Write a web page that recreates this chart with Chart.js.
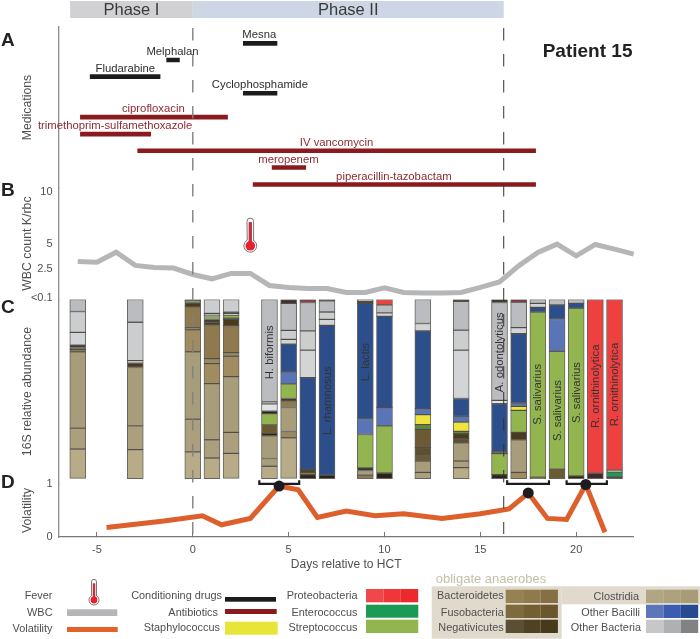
<!DOCTYPE html>
<html>
<head>
<meta charset="utf-8">
<title>Patient 15</title>
<script src="https://cdn.jsdelivr.net/npm/chart.js@4"></script>
<style>
  html, body { margin: 0; padding: 0; background: #fff; }
  canvas { display: block; }
</style>
</head>
<body>
<canvas id="patientChart" width="700" height="639"></canvas>
<script>
// medications: row on the panel, first and last day
const conditioningDrugs = ['Mesna', 'Melphalan', 'Fludarabine', 'Cyclophosphamide'];
const conditioningRows = [1, 2, 3, 4];
const conditioningStart = [2.62, -1.38, -5.37, 2.62];
const conditioningEnd = [4.41, -0.68, -1.69, 4.41];
const conditioningLabelDays = [3.47, -1.06, -3.52, 3.5];

const antibiotics = ['ciprofloxacin', 'trimethoprim-sulfamethoxazole', 'IV vancomycin', 'meropenem', 'piperacillin-tazobactam'];
const antibioticRows = [5.43, 6.45, 7.45, 8.45, 9.47];
const antibioticStart = [-5.88, -5.88, -2.89, 4.12, 3.13];
const antibioticEnd = [1.83, -2.18, 17.9, 5.91, 17.9];
const antibioticLabelDays = [-2.06, -4.05, 7.5, 4.99, 10.49];

// white blood cells
const wbcDays = [-6, -5, -4, -3, -2, -1, 0, 1, 2, 3, 4, 5, 6, 7, 8, 9, 10, 11, 12, 13, 14, 15, 16, 17, 18, 19, 20, 21, 22, 23];
const wbcValues = [3.28, 3.21, 4.18, 2.89, 2.69, 2.63, 2.01, 1.59, 2.11, 2.11, 0.94, 0.75, 0.65, 0.65, 0.26, 0.26, 0.71, 0.26, 0.22, 0.22, 0.26, 0.75, 1.29, 2.85, 4.15, 4.96, 3.82, 4.93, 4.47, 3.99];
const wbcTicks = [10, 5, 2.5, -0.25];
const wbcTickLabels = ['10', '5', '2.5', '<0.1'];
const feverDays = [3];
const feverLevels = [4.8];

// 16S samples, each column listed from the top down
const sampleDays = [-6, -3, 0, 1, 2, 4, 5, 6, 7, 9, 10, 12, 14, 16, 17, 18, 19, 20, 21, 22];
const sampleTaxa = [
  ['oth1', 'oth2', 'oth3', 'neg2', 'neg', 'bac', 'clo1', 'clo2', 'clo3'],
  ['oth1', 'oth2', 'oth4', 'neg', 'clo1', 'clo2', 'clo3'],
  ['neg2', 'strep', 'neg', 'bac', 'fus', 'bac2', 'clo1', 'clo2', 'clo3'],
  ['oth2', 'oth5', 'oth4', 'strep', 'neg2', 'neg', 'bac', 'bac3', 'bac2', 'clo1', 'clo2', 'clo3'],
  ['oth2', 'neg2', 'oth4', 'strep', 'neg2', 'neg', 'bac', 'bac3', 'bac2', 'clo1', 'clo2', 'clo3'],
  ['oth1', 'oth5', 'oth4', 'neg2', 'strep', 'fus', 'neg2', 'clo1', 'clo1', 'clo3'],
  ['neg3', 'oth1', 'oth2', 'oth3', 'blue', 'bacilli', 'strep', 'neg2', 'bac', 'clo1', 'bac3', 'clo3'],
  ['entero', 'oth1', 'oth2', 'oth3', 'blue', 'neg', 'bac', 'neg2'],
  ['neg2', 'oth1', 'oth2', 'oth3', 'blue', 'neg2'],
  ['oth1', 'neg2', 'blue', 'bacilli', 'strep', 'neg2', 'clo1', 'bac'],
  ['proteo', 'oth1', 'oth3', 'blue', 'bacilli', 'strep', 'neg2'],
  ['oth1', 'oth3', 'blue', 'bacilli', 'staph', 'strepDark', 'fus', 'olive', 'fus', 'clo1', 'clo2'],
  ['neg2', 'oth1', 'oth2', 'oth3', 'blue', 'bacilli', 'staph', 'strepDark', 'neg', 'olive', 'clo1', 'clo2', 'clo3'],
  ['neg2', 'oth1', 'oth4', 'blue', 'neg2', 'strep', 'neg2'],
  ['entero', 'oth1', 'oth3', 'blue', 'bacilli', 'staph', 'strep', 'neg', 'clo1', 'bac2'],
  ['oth1', 'oth3', 'blue', 'strep', 'neg'],
  ['oth1', 'blue', 'bacilli', 'strep', 'fus'],
  ['oth1', 'blue', 'strep', 'neg2'],
  ['proteo', 'neg3'],
  ['proteo', 'clo3', 'enteroGreen', 'neg2']
];
const sampleShares = [
  [6.7, 11.7, 7.1, 1.3, 1.1, 1.3, 42.6, 11.7, 16.4],
  [12.7, 21.4, 1.5, 2.4, 32.6, 13.2, 16.2],
  [0.9, 0.8, 2.4, 11.7, 1.1, 12.3, 37.6, 18.3, 14.9],
  [7.8, 1.1, 0.6, 1.7, 1.5, 1.5, 18.8, 2.8, 11.2, 31.3, 10.2, 11.5],
  [7.1, 0.7, 0.9, 1.7, 0.7, 3.5, 15.1, 2, 11.4, 31.1, 11.7, 14],
  [57.2, 1.1, 4.1, 1.3, 6.3, 4.8, 1.3, 12.7, 4.3, 6.9],
  [2.2, 15.1, 5, 2.6, 15.5, 6.7, 8.2, 1.3, 3.7, 13.4, 3.5, 22.7],
  [1.7, 15.8, 10.8, 15.3, 51.4, 1.5, 1.3, 2.2],
  [0.7, 6.3, 4.1, 3.4, 83.6, 1.9],
  [0.9, 1.3, 64.8, 8.4, 18.6, 1.5, 2.6, 1.9],
  [3, 4.5, 1.9, 51, 10.2, 26.3, 3.2],
  [13.4, 4.1, 43.4, 3.4, 5.6, 2.6, 10.2, 4.7, 2.8, 6.3, 3.5],
  [1.1, 16, 11.2, 27, 9.9, 3.2, 5.2, 1.3, 2.8, 2.4, 10.1, 3.7, 6.1],
  [1.7, 54.6, 1.9, 26.8, 1.1, 11.7, 2.2],
  [1.5, 14.2, 3.4, 38.7, 1.9, 2.2, 12.3, 4.1, 18.2, 3.5],
  [2.2, 2.2, 2.6, 92.2, 0.8],
  [3, 8.2, 17.7, 65.9, 5.2],
  [2.2, 2.6, 93.7, 1.5],
  [97, 3],
  [95.3, 1.1, 2.6, 1]
];
const speciesNames = ['H. biformis', 'L. rhamnosus', 'L. lactis', 'A. odontolyticus', 'S. salivarius', 'S. salivarius', 'S. salivarius', 'R. ornithinolytica', 'R. ornithinolytica'];
const speciesDays = [4, 7, 9, 16, 18, 19, 20, 21, 22];
const speciesLevels = [29.5, 56.5, 35, 29.5, 53, 62, 52, 48.5, 47.5];

// volatility between consecutive samples
const volatilityDays = [-4.5, -1.5, 0.5, 1.5, 3, 4.5, 5.5, 6.5, 8, 9.5, 11, 13, 15, 16.5, 17.5, 18.5, 19.5, 20.5, 21.5];
const volatilityValues = [0.18, 0.3, 0.4, 0.23, 0.35, 0.96, 0.89, 0.37, 0.49, 0.4, 0.44, 0.35, 0.44, 0.53, 0.83, 0.35, 0.33, 0.99, 0.09];
const peakDays = [4.5, 17.5, 20.5];
const peakValues = [0.96, 0.83, 0.99];
const bracketStart = [3.47, 16.4, 19.5];
const bracketEnd = [5.55, 18.58, 21.6];

const dayTicks = [-5, 0, 5, 10, 15, 20];
const phaseNames = ['Phase I', 'Phase II'];
const phaseStart = [-6.4, 0];
const phaseEnd = [0, 16.22];
const phaseColours = ['#d1d1d3', '#cdd6e4'];

const taxonColours = {
  oth1: '#bbbcbf', oth2: '#cbcdcf', oth3: '#d3d4d6', oth4: '#e2e3e5', oth5: '#9ea0a2',
  neg: '#4a3a1b', neg2: '#2b2416', neg3: '#3c2a28', olive: '#5c5030', fus: '#6c5a32',
  bac: '#8f7a50', bac2: '#a08c60', bac3: '#9a8860',
  clo1: '#a89d7a', clo2: '#ab9f7e', clo3: '#b7ab88',
  blue: '#2c4f8c', bacilli: '#5a74b8',
  strep: '#93b550', strepDark: '#5f8a3a', staph: '#efe43c',
  enteroGreen: '#1d9a55', entero: '#8a2a30', proteo: '#ef4040'
};

const FONT = '"Liberation Sans", Arial, sans-serif';
const TEXT = '#4f4f4f';
const AXIS = '#8c8c8c';

function hline(label, row, start, end, colour) {
  return {
    type: 'line', label: label, yAxisID: 'yMed', order: 3,
    data: [{ x: start, y: row }, { x: end, y: row }],
    borderColor: colour, borderWidth: 4.6, pointRadius: 0, borderCapStyle: 'butt'
  };
}

const datasets = [];
conditioningDrugs.forEach((d, i) => datasets.push(hline(d, conditioningRows[i], conditioningStart[i], conditioningEnd[i], '#1c1c1c')));
antibiotics.forEach((d, i) => datasets.push(hline(d, antibioticRows[i], antibioticStart[i], antibioticEnd[i], '#8a1a1d')));

datasets.push({
  type: 'line', label: 'WBC', yAxisID: 'yWbc', order: 2,
  data: wbcDays.map((d, i) => ({ x: d, y: wbcValues[i] })),
  borderColor: '#b5b6b8', borderWidth: 5, pointRadius: 0, borderJoinStyle: 'miter', clip: false
});

// one stacked dataset per layer, first layer sits at the top of the column
const layerCount = Math.max(...sampleShares.map(s => s.length));
for (let layer = 0; layer < layerCount; layer++) {
  const members = sampleDays.map((d, i) => i).filter(i => sampleShares[i].length > layer);
  datasets.push({
    type: 'bar', label: 'layer ' + layer, yAxisID: 'yAbund', order: 4,
    data: members.map(i => ({ x: sampleDays[i], y: sampleShares[i][layer] })),
    backgroundColor: members.map(i => taxonColours[sampleTaxa[i][layer]]),
    borderColor: 'rgba(50,48,42,0.75)', borderWidth: 1, borderSkipped: false,
    barThickness: 16
  });
}

datasets.push({
  type: 'line', label: 'Volatility', yAxisID: 'yVol', order: 1,
  data: volatilityDays.map((d, i) => ({ x: d, y: volatilityValues[i] })),
  borderColor: '#dd5f2b', borderWidth: 5, pointRadius: 0, borderJoinStyle: 'miter', clip: false
});
bracketStart.forEach((s, i) => datasets.push({
  type: 'line', label: 'bracket ' + i, yAxisID: 'yVol', order: 0,
  data: [{ x: s, y: 1.07 }, { x: s, y: 1 }, { x: bracketEnd[i], y: 1 }, { x: bracketEnd[i], y: 1.07 }],
  borderColor: '#1c1c20', borderWidth: 2.2, pointRadius: 0, clip: false
}));
datasets.push({
  type: 'scatter', label: 'peaks', yAxisID: 'yVol', order: 0,
  data: peakDays.map((d, i) => ({ x: d, y: peakValues[i] })),
  backgroundColor: '#1c1c20', borderWidth: 0, pointRadius: 5.5, clip: false
});

function thermometer(ctx, cx, top, bulbY, tubeW, bulbR) {
  ctx.save();
  ctx.beginPath();
  ctx.arc(cx, top + tubeW / 2, tubeW / 2, Math.PI, 0);
  ctx.lineTo(cx + tubeW / 2, bulbY - bulbR + 1);
  ctx.arc(cx, bulbY, bulbR, -Math.PI / 2 + 0.5, Math.PI * 1.5 - 0.5);
  ctx.closePath();
  ctx.fillStyle = '#fff';
  ctx.fill();
  ctx.strokeStyle = '#555';
  ctx.lineWidth = 0.8;
  ctx.stroke();
  ctx.fillStyle = '#c5303c';
  ctx.fillRect(cx - tubeW * 0.25, top + 4, tubeW * 0.5, bulbY - top - 4);
  ctx.beginPath();
  ctx.arc(cx, bulbY, bulbR - 1.6, 0, Math.PI * 2);
  ctx.fillStyle = '#e8202e';
  ctx.fill();
  ctx.restore();
}

function label(ctx, text, x, y, opts) {
  const o = opts || {};
  ctx.fillStyle = o.colour || TEXT;
  ctx.font = (o.bold ? 'bold ' : '') + (o.size || 11) + 'px ' + FONT;
  ctx.textAlign = o.align || 'left';
  ctx.textBaseline = 'middle';
  ctx.fillText(text, x, y);
}

// the legend at the bottom and the text that is not tied to an axis
const legendText = [
  ['Fever', 52.5, 596], ['WBC', 52.5, 612.7], ['Volatility', 52.5, 628.7],
  ['Conditioning drugs', 222, 596], ['Antibiotics', 218, 612.7], ['Staphylococcus', 220, 628],
  ['Proteobacteria', 357.5, 596], ['Enterococcus', 357.5, 612.5], ['Streptococcus', 357.5, 628],
  ['Bacteroidetes', 503.7, 596], ['Fusobacteria', 503.7, 612.7], ['Negativicutes', 503.7, 628],
  ['Clostridia', 639, 597], ['Other Bacilli', 640, 612.7], ['Other Bacteria', 641, 628]
];
const legendSolid = [
  [67, 609.3, 50.3, 6.7, '#b5b6b8'], [67, 627, 50.7, 5, '#e2622a'],
  [225, 597, 51, 4.7, '#1c1c1c'], [225, 609, 51.7, 5, '#8a1a1d'], [225, 621.7, 52.7, 13, '#e8e438'],
  [366, 604.7, 52.3, 13, '#1a9a55'], [366, 619.7, 52.3, 13.3, '#93b550']
];
const legendShaded = [
  [366, 589, ['#f0474a', '#ef3638', '#ec2a2c']],
  [505.7, 589.7, ['#958152', '#8f7a4d', '#866f44']],
  [505.7, 604.7, ['#7d6a3e', '#745f32', '#6c572d']],
  [505.7, 619.7, ['#5b4f33', '#4f4223', '#463a1b']],
  [646, 589.7, ['#b0a683', '#ada27d', '#a89b77']],
  [646, 604.7, ['#5c76b8', '#3a5db0', '#27498f']],
  [646, 619.7, ['#c6c7c9', '#afb0b2', '#808284']]
];

const decorations = {
  id: 'decorations',
  beforeDatasetsDraw(chart) {
    const { ctx, scales } = chart;
    const x = scales.x;
    ctx.save();
    // phase bands
    phaseNames.forEach((name, i) => {
      const a = x.getPixelForValue(phaseStart[i]);
      const b = x.getPixelForValue(phaseEnd[i]);
      ctx.fillStyle = phaseColours[i];
      ctx.fillRect(a, 1, b - a, 17);
      label(ctx, name, (a + b) / 2, 10, { size: 16.5, colour: '#3a3a3a', align: 'center' });
    });
    ctx.restore();
  },
  afterDatasetsDraw(chart) {
    const { ctx, scales, chartArea } = chart;
    const x = scales.x;
    ctx.save();

    // dashed boundaries of the phases
    [[0, '#808080', 1.4, 0], [16.22, '#333', 1, 3]].forEach(([day, colour, width, short]) => {
      const px = x.getPixelForValue(day);
      ctx.strokeStyle = colour;
      ctx.lineWidth = width;
      ctx.setLineDash([12.5, 13.5]);
      ctx.beginPath();
      ctx.moveTo(px, chartArea.top + 1);
      ctx.lineTo(px, chartArea.bottom - short);
      ctx.stroke();
    });
    ctx.setLineDash([]);

    // medication names sit just above their bars
    conditioningDrugs.forEach((name, i) => {
      label(ctx, name, x.getPixelForValue(conditioningLabelDays[i]), scales.yMed.getPixelForValue(conditioningRows[i]) - 8,
        { size: 11.3, colour: '#2e2e2e', align: 'center' });
    });
    antibiotics.forEach((name, i) => {
      label(ctx, name, x.getPixelForValue(antibioticLabelDays[i]), scales.yMed.getPixelForValue(antibioticRows[i]) - 8,
        { size: 11.3, colour: '#8f2a30', align: 'center' });
    });

    // fever mark
    feverDays.forEach((d, i) => {
      const bulb = scales.yWbc.getPixelForValue(feverLevels[i]);
      thermometer(ctx, x.getPixelForValue(d), bulb - 27.7, bulb, 6.6, 6.4);
    });

    // species names along the columns
    speciesNames.forEach((name, i) => {
      ctx.save();
      ctx.translate(x.getPixelForValue(speciesDays[i]), scales.yAbund.getPixelForValue(speciesLevels[i]));
      ctx.rotate(-Math.PI / 2);
      label(ctx, name, 0, 0.5, { size: 11.3, colour: '#333', align: 'center' });
      ctx.restore();
    });

    // panel letters and patient name
    [['A', 41], ['B', 191], ['C', 308], ['D', 483]].forEach(([l, y]) => label(ctx, l, 1, y, { size: 19, bold: true, colour: '#222' }));
    label(ctx, 'Patient 15', 542.7, 51.7, { size: 19, bold: true, colour: '#222' });

    // legend
    ctx.fillStyle = '#e0dacd';
    ctx.fillRect(431.7, 586.3, 130, 52.4);
    ctx.fillRect(561.7, 586.3, 138.3, 18);
    label(ctx, 'obligate anaerobes', 435.7, 579, { size: 13, colour: '#c5bfa8' });
    legendSolid.forEach(([sx, sy, w, h, c]) => { ctx.fillStyle = c; ctx.fillRect(sx, sy, w, h); });
    legendShaded.forEach(([sx, sy, shades]) => {
      shades.forEach((c, i) => { ctx.fillStyle = c; ctx.fillRect(sx + i * 17.4, sy, 17.4, 13.3); });
    });
    legendText.forEach(([t, tx, ty]) => label(ctx, t, tx, ty, { size: 10.9, align: 'right' }));
    thermometer(ctx, 94, 579.3, 600, 5, 5);
    ctx.restore();
  }
};

function stackedY(weight, extra) {
  return Object.assign({
    position: 'left', stack: 'panels', stackWeight: weight, offset: false,
    grid: { display: false, drawTicks: false },
    border: { color: AXIS, width: 1.3 },
    ticks: { display: false },
    afterFit(scale) { scale.width = 58.6; }
  }, extra);
}
function axisTitle(text) {
  return { display: true, text: text, color: TEXT, font: { family: FONT, size: 12.3 }, padding: { top: 20, bottom: 0 } };
}
const tickStyle = { color: TEXT, font: { family: FONT, size: 11 }, padding: 6 };

new Chart(document.getElementById('patientChart'), {
  data: { datasets: datasets },
  plugins: [decorations],
  options: {
    responsive: false,
    animation: false,
    events: [],
    layout: { padding: { top: 27, right: 66.3, bottom: 67, left: 0 } },
    plugins: { legend: { display: false }, tooltip: { enabled: false } },
    scales: {
      x: {
        type: 'linear', min: -7, max: 23, stacked: true, offset: false,
        grid: { offset: false, drawOnChartArea: false, tickLength: -5, tickWidth: 1, tickColor: '#777' },
        border: { color: '#777', width: 1.3 },
        ticks: { color: TEXT, font: { family: FONT, size: 11 }, padding: 11, maxRotation: 0, autoSkip: false },
        afterBuildTicks(scale) { scale.ticks = dayTicks.map(v => ({ value: v })); },
        afterFit(scale) { scale.height = 35; },
        title: { display: true, text: 'Days relative to HCT', color: TEXT, font: { family: FONT, size: 12 }, padding: { top: 0, bottom: 0 } }
      },
      yMed: stackedY(161, { min: 0.02, max: 9.69, reverse: true, weight: 4, title: axisTitle('Medications') }),
      yWbc: stackedY(111, {
        min: -0.39, max: 10.41, weight: 3, title: axisTitle('WBC count K/rbc'),
        ticks: Object.assign({ autoSkip: false, callback: v => wbcTickLabels[wbcTicks.indexOf(v)] }, tickStyle),
        afterBuildTicks(scale) { scale.ticks = wbcTicks.map(v => ({ value: v })); }
      }),
      yAbund: stackedY(184.7, { min: -0.17, max: 103, reverse: true, stacked: true, weight: 2, title: axisTitle('16S relative abundance') }),
      yVol: stackedY(53, {
        min: 0, max: 1, weight: 1, title: axisTitle('Volatility'),
        ticks: Object.assign({ autoSkip: false }, tickStyle),
        afterBuildTicks(scale) { scale.ticks = [{ value: 1 }, { value: 0 }]; }
      })
    }
  }
});
</script>
</body>
</html>
